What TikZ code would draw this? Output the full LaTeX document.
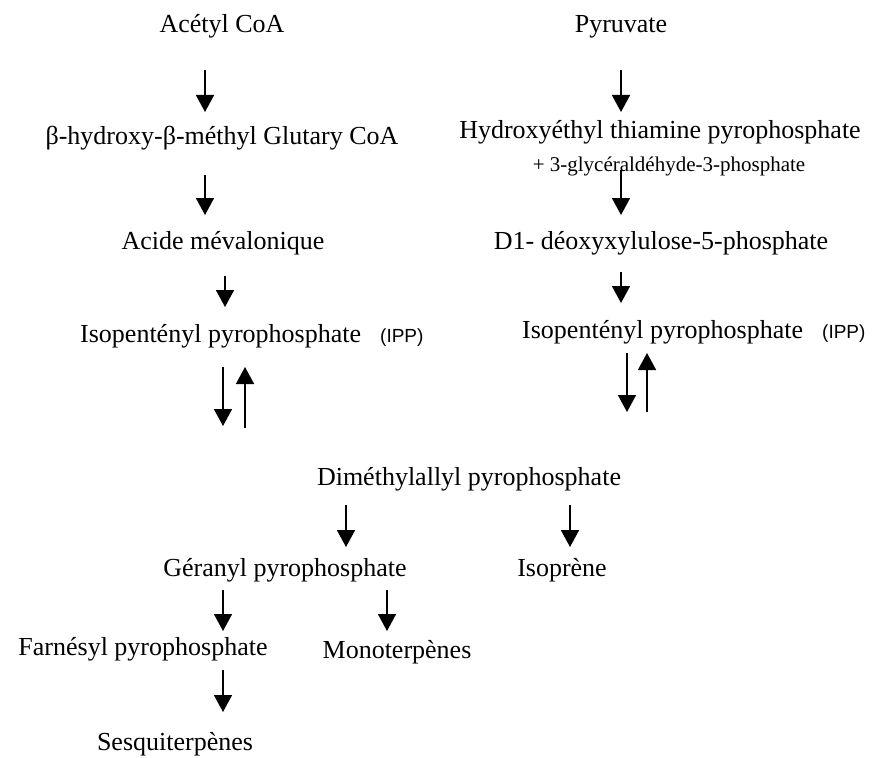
\documentclass[tikz,border=0pt]{standalone}
\usepackage{fontspec}
\setmainfont{Liberation Serif}
\setsansfont{Liberation Sans}
\usetikzlibrary{arrows.meta}
\begin{document}
\begin{tikzpicture}[x=1pt,y=-1pt,
  lbl/.style={inner sep=0pt,anchor=base,font=\fontsize{26}{30}\selectfont},
  small/.style={inner sep=0pt,anchor=base,font=\fontsize{21}{24}\selectfont},
  abbr/.style={inner sep=0pt,anchor=base west,font=\sffamily\fontsize{19}{22}\selectfont},
  arr/.style={line width=1.6pt,-{Triangle[width=18pt,length=17pt]}}]
\useasboundingbox (0,0) rectangle (882,757);
% left column
\node[lbl] (acetyl) at (222,33) {Acétyl CoA};
\node[lbl] (hmg) at (222,144) {β-hydroxy-β-méthyl Glutary CoA};
\node[lbl] (mva) at (223,249) {Acide mévalonique};
\node[lbl,anchor=base west] (ippl) at (80,342) {Isopentényl pyrophosphate};
\node[abbr] (ippla) at (380,342) {(IPP)};
% right column
\node[lbl] (pyr) at (621,33) {Pyruvate};
\node[lbl] (hetpp) at (660,138) {Hydroxyéthyl thiamine pyrophosphate};
\node[small] (gap) at (669,171) {+ 3-glycéraldéhyde-3-phosphate};
\node[lbl] (dxp) at (661,249) {D1- déoxyxylulose-5-phosphate};
\node[lbl,anchor=base west] (ippr) at (522,338) {Isopentényl pyrophosphate};
\node[abbr] (ippra) at (822,338) {(IPP)};
% lower part
\node[lbl] (dmapp) at (469,485) {Diméthylallyl pyrophosphate};
\node[lbl] (gpp) at (285,576) {Géranyl pyrophosphate};
\node[lbl] (iso) at (562,576) {Isoprène};
\node[lbl] (fpp) at (143,655) {Farnésyl pyrophosphate};
\node[lbl] (mono) at (397,658) {Monoterpènes};
\node[lbl] (sesq) at (175,750) {Sesquiterpènes};
% arrow end points
\coordinate (a1s) at (205,70);  \coordinate (a1e) at (205,112);
\coordinate (a2s) at (205,175); \coordinate (a2e) at (205,215);
\coordinate (a3s) at (225,276); \coordinate (a3e) at (225,307);
\coordinate (d1s) at (223,367); \coordinate (d1e) at (223,426);
\coordinate (u1s) at (245,428); \coordinate (u1e) at (245,367);
\coordinate (b1s) at (621,70);  \coordinate (b1e) at (621,112);
\coordinate (b2s) at (621,170); \coordinate (b2e) at (621,215);
\coordinate (b3s) at (621,272); \coordinate (b3e) at (621,303);
\coordinate (d2s) at (627,353); \coordinate (d2e) at (627,412);
\coordinate (u2s) at (647,412); \coordinate (u2e) at (647,353);
\coordinate (c1s) at (346,505); \coordinate (c1e) at (346,547);
\coordinate (c2s) at (570,505); \coordinate (c2e) at (570,547);
\coordinate (e1s) at (223,590); \coordinate (e1e) at (223,631);
\coordinate (e2s) at (387,590); \coordinate (e2e) at (387,631);
\coordinate (f1s) at (223,670); \coordinate (f1e) at (223,712);
% arrows
\draw[arr] (a1s) -- (a1e);
\draw[arr] (a2s) -- (a2e);
\draw[arr] (a3s) -- (a3e);
\draw[arr] (d1s) -- (d1e);
\draw[arr] (u1s) -- (u1e);
\draw[arr] (b1s) -- (b1e);
\draw[arr] (b2s) -- (b2e);
\draw[arr] (b3s) -- (b3e);
\draw[arr] (d2s) -- (d2e);
\draw[arr] (u2s) -- (u2e);
\draw[arr] (c1s) -- (c1e);
\draw[arr] (c2s) -- (c2e);
\draw[arr] (e1s) -- (e1e);
\draw[arr] (e2s) -- (e2e);
\draw[arr] (f1s) -- (f1e);
\end{tikzpicture}
\end{document}
